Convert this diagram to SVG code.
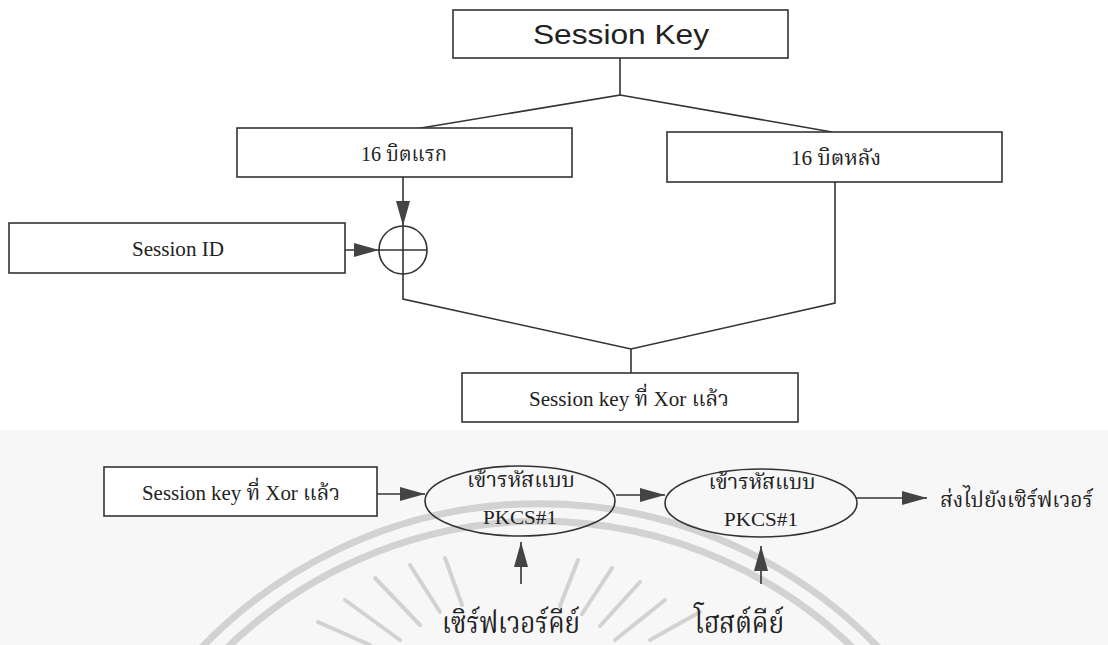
<svg xmlns="http://www.w3.org/2000/svg" width="1108" height="645" viewBox="0 0 1108 645">
  <style>
    .box { fill: #ffffff; stroke: #333333; stroke-width: 1.6; }
    .ell { fill: none; stroke: #333333; stroke-width: 1.6; }
    .wire { fill: none; stroke: #333333; stroke-width: 1.6; }
    .t { font-family: "Liberation Serif", "Noto Serif Thai", "Noto Sans Thai", serif; fill: #222222; text-anchor: middle; }
    .sans { font-family: "Liberation Sans", Arial, sans-serif; fill: #222222; text-anchor: middle; }
    .wm { fill: none; stroke: #d2d2d2; stroke-linecap: round; }
  </style>
  <defs>
    <marker id="arrow" viewBox="0 0 25 14" refX="25" refY="7" markerWidth="25" markerHeight="14" markerUnits="userSpaceOnUse" orient="auto">
      <path d="M0,0 L25,7 L0,14 z" fill="#444444"/>
    </marker>
  </defs>

  <rect width="1108" height="645" fill="#ffffff"/>
  <!-- lower panel tint -->
  <rect x="0" y="430" width="1108" height="215" fill="#f7f7f7"/>

  <!-- background emblem -->
  <g id="emblem">
    <path class="wm" stroke-width="7" d="M 190 660 A 470 470 0 0 1 890 660"/>
    <path class="wm" stroke-width="7" d="M 215 660 A 450 450 0 0 1 865 660"/>
    <g stroke-width="4" class="wm">
      <line x1="400" y1="640" x2="345" y2="600"/>
      <line x1="420" y1="625" x2="375" y2="578"/>
      <line x1="440" y1="612" x2="410" y2="565"/>
      <line x1="462" y1="605" x2="445" y2="558"/>
      <line x1="560" y1="606" x2="578" y2="560"/>
      <line x1="582" y1="614" x2="612" y2="568"/>
      <line x1="600" y1="626" x2="640" y2="582"/>
      <line x1="615" y1="640" x2="665" y2="600"/>
      <line x1="650" y1="640" x2="700" y2="612"/>
      <line x1="370" y1="645" x2="318" y2="622"/>
    </g>
  </g>

  <!-- connectors -->
  <g id="connectors">
    <polyline class="wire" points="620,58 620,95 415,129"/>
    <line class="wire" x1="620" y1="95" x2="832" y2="132"/>
    <line class="wire" x1="403" y1="177" x2="403" y2="226" marker-end="url(#arrow)"/>
    <line class="wire" x1="345" y1="250" x2="379" y2="250" marker-end="url(#arrow)"/>
    <polyline class="wire" points="403,274 403,299 631,349 835,303 835,182"/>
    <line class="wire" x1="631" y1="349" x2="631" y2="373"/>
    <line class="wire" x1="377" y1="494" x2="425" y2="494" marker-end="url(#arrow)"/>
    <line class="wire" x1="616" y1="495" x2="665" y2="495" marker-end="url(#arrow)"/>
    <line class="wire" x1="856" y1="498" x2="927" y2="498" marker-end="url(#arrow)"/>
    <line class="wire" x1="521" y1="584" x2="521" y2="542" marker-end="url(#arrow)"/>
    <line class="wire" x1="761" y1="584" x2="761" y2="546" marker-end="url(#arrow)"/>
  </g>

  <g id="session-key">
    <rect class="box" x="453" y="10" width="335" height="48"/>
    <text class="sans" x="621" y="44" font-size="27" textLength="176" lengthAdjust="spacingAndGlyphs">Session Key</text>
  </g>

  <g id="first-16-bits">
    <rect class="box" x="237" y="128" width="335" height="49"/>
    <text class="t" x="404" y="161" font-size="21" textLength="86" lengthAdjust="spacingAndGlyphs">16 บิตแรก</text>
  </g>

  <g id="last-16-bits">
    <rect class="box" x="667" y="132" width="335" height="50"/>
    <text class="t" x="836" y="165" font-size="21" textLength="90" lengthAdjust="spacingAndGlyphs">16 บิตหลัง</text>
  </g>

  <g id="session-id">
    <rect class="box" x="9" y="223" width="336" height="50"/>
    <text class="t" x="178" y="256" font-size="21" textLength="92" lengthAdjust="spacingAndGlyphs">Session ID</text>
  </g>

  <g id="xor">
    <circle cx="403" cy="250" r="24" fill="#ffffff" stroke="#333333" stroke-width="1.6"/>
    <line class="wire" x1="379" y1="250" x2="427" y2="250"/>
    <line class="wire" x1="403" y1="226" x2="403" y2="274"/>
  </g>

  <g id="xored-key">
    <rect class="box" x="462" y="373" width="336" height="49"/>
    <text class="t" x="629" y="406" font-size="21" textLength="200" lengthAdjust="spacingAndGlyphs">Session key ที่ Xor แล้ว</text>
  </g>

  <g id="xored-key-input">
    <rect class="box" x="104" y="467" width="273" height="49"/>
    <text class="t" x="241" y="500" font-size="21" textLength="198" lengthAdjust="spacingAndGlyphs">Session key ที่ Xor แล้ว</text>
  </g>

  <g id="encrypt-server">
    <ellipse class="ell" cx="520" cy="501" rx="95" ry="35"/>
    <text class="t" x="521" y="487" font-size="21" textLength="108" lengthAdjust="spacingAndGlyphs">เข้ารหัสแบบ</text>
    <text class="t" x="520" y="524" font-size="19" textLength="74" lengthAdjust="spacingAndGlyphs">PKCS#1</text>
  </g>

  <g id="encrypt-host">
    <ellipse class="ell" cx="761" cy="503" rx="96" ry="34"/>
    <text class="t" x="762" y="489" font-size="21" textLength="107" lengthAdjust="spacingAndGlyphs">เข้ารหัสแบบ</text>
    <text class="t" x="761" y="526" font-size="19" textLength="74" lengthAdjust="spacingAndGlyphs">PKCS#1</text>
  </g>

  <g id="send-to-server">
    <text class="t" x="940" y="507" font-size="21" style="text-anchor:start" textLength="153" lengthAdjust="spacingAndGlyphs">ส่งไปยังเซิร์ฟเวอร์</text>
  </g>

  <g id="server-key">
    <text class="t" x="511" y="633" font-size="31" textLength="138" lengthAdjust="spacingAndGlyphs">เซิร์ฟเวอร์คีย์</text>
  </g>

  <g id="host-key">
    <text class="t" x="739" y="633" font-size="31" textLength="90" lengthAdjust="spacingAndGlyphs">โฮสต์คีย์</text>
  </g>
</svg>
